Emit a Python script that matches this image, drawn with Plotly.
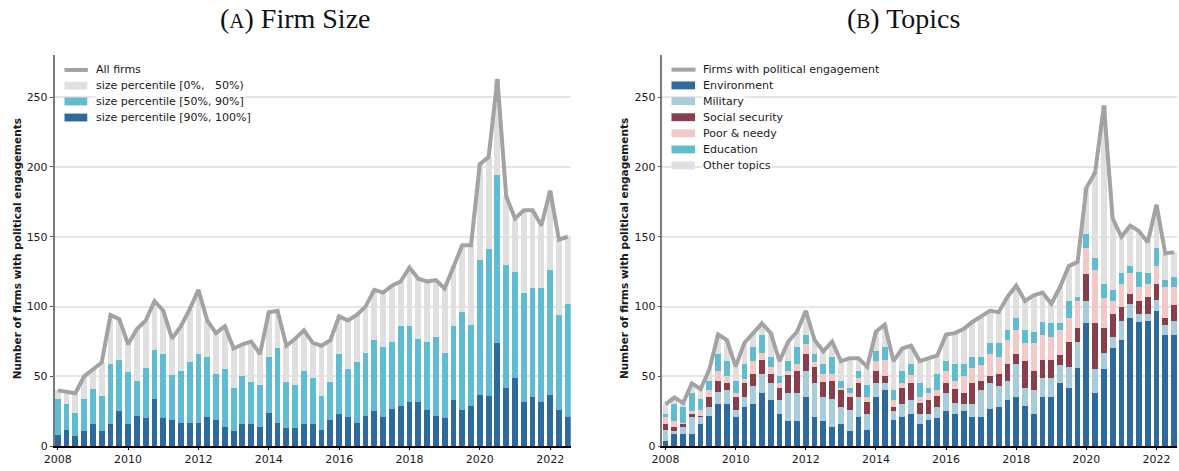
import plotly.graph_objects as go

# ---------------------------------------------------------------- data
# quarterly observations, 2008Q1 .. 2022Q3
quarters = [f"{y}-Q{q}" for y in range(2008, 2023) for q in range(1, 5)][:59]
xpos = [int(s[:4]) + (int(s[-1]) - 1) / 4 for s in quarters]

# Panel A: firms by size percentile
size_top10 = [8, 12, 7, 11, 16, 11, 16, 25, 16, 22, 20, 34, 20, 19, 17, 17, 17, 21, 19, 14,
              11, 16, 16, 14, 24, 17, 13, 13, 16, 16, 12, 19, 23, 21, 17, 22, 25, 21, 27, 29,
              32, 32, 26, 22, 20, 33, 26, 29, 37, 36, 74, 42, 49, 32, 35, 32, 37, 26, 21]
size_50_90 = [26, 18, 17, 23, 25, 25, 43, 37, 37, 25, 36, 35, 46, 32, 37, 43, 49, 43, 33, 41,
              31, 34, 30, 30, 40, 53, 33, 31, 38, 33, 24, 27, 43, 34, 43, 45, 51, 50, 48, 57,
              54, 45, 49, 56, 47, 53, 70, 58, 96, 105, 120, 88, 76, 78, 78, 81, 89, 68, 81]
size_0_50 = [6, 9, 14, 16, 14, 24, 35, 29, 20, 37, 34, 35, 31, 26, 32, 38, 46, 26, 29, 31,
             28, 23, 29, 22, 32, 27, 26, 33, 29, 25, 36, 30, 27, 35, 34, 33, 36, 39, 40, 32,
             42, 43, 43, 41, 46, 43, 48, 57, 69, 66, 69, 49, 38, 59, 56, 45, 57, 54, 48]
all_firms = [40, 39, 38, 50, 55, 60, 94, 91, 73, 84, 90, 104, 97, 77, 86, 98, 112, 90, 81, 86,
             70, 73, 75, 66, 96, 97, 72, 77, 83, 74, 72, 76, 93, 90, 94, 100, 112, 110, 115, 118,
             128, 120, 118, 119, 113, 129, 144, 144, 202, 207, 263, 179, 163, 169, 169, 158, 183, 148, 150]

# Panel B: firms by engagement topic
environment = [4, 9, 9, 9, 16, 22, 30, 30, 21, 28, 30, 38, 33, 23, 18, 18, 35, 21, 18, 14,
               16, 11, 21, 12, 35, 40, 19, 21, 23, 16, 19, 20, 25, 23, 25, 21, 21, 27, 28, 33,
               35, 29, 23, 35, 35, 45, 42, 56, 88, 38, 55, 70, 76, 92, 89, 90, 97, 80, 80]
military = [8, 2, 5, 12, 5, 6, 9, 10, 5, 7, 13, 14, 12, 10, 20, 20, 19, 24, 17, 20,
            12, 15, 14, 11, 10, 5, 6, 9, 10, 7, 4, 8, 13, 8, 5, 9, 19, 18, 15, 14,
            24, 13, 17, 14, 14, 13, 15, 19, 16, 17, 12, 8, 14, 10, 6, 5, 8, 7, 10]
social_security = [4, 3, 2, 2, 1, 7, 8, 5, 9, 10, 9, 10, 7, 9, 13, 16, 12, 12, 11, 13,
                   12, 9, 10, 9, 9, 5, 3, 12, 12, 8, 10, 8, 7, 10, 8, 15, 7, 5, 9, 12,
                   7, 19, 14, 13, 13, 7, 18, 10, 19, 33, 18, 17, 10, 7, 9, 12, 11, 5, 11]
poor_needy = [5, 4, 1, 2, 4, 5, 7, 5, 3, 3, 9, 5, 5, 3, 3, 5, 7, 3, 6, 5,
              2, 3, 4, 3, 7, 12, 5, 3, 6, 4, 5, 4, 9, 6, 12, 11, 11, 16, 12, 17,
              17, 13, 20, 18, 16, 18, 17, 19, 19, 38, 21, 9, 16, 15, 10, 9, 13, 22, 13]
education = [2, 12, 11, 13, 8, 7, 12, 11, 9, 11, 10, 13, 7, 5, 7, 12, 7, 6, 7, 12,
             5, 4, 5, 9, 7, 9, 7, 9, 8, 10, 4, 12, 7, 12, 9, 8, 6, 8, 10, 7,
             9, 9, 8, 9, 10, 5, 12, 3, 10, 9, 10, 8, 8, 5, 11, 8, 13, 5, 7]
other_topics = [7, 5, 3, 7, 7, 8, 14, 15, 10, 15, 10, 8, 17, 11, 14, 11, 17, 10, 9, 11,
                14, 21, 9, 13, 14, 16, 21, 16, 13, 16, 21, 13, 19, 22, 25, 25, 29, 23, 22, 24,
                23, 21, 26, 21, 14, 26, 25, 25, 33, 61, 128, 51, 26, 29, 29, 22, 31, 19, 18]
engaged_firms = [30, 35, 31, 45, 41, 55, 80, 76, 57, 74, 81, 88, 81, 61, 75, 82, 97, 76, 68, 75,
                 61, 63, 63, 57, 82, 87, 61, 70, 72, 61, 63, 65, 80, 81, 84, 89, 93, 97, 96, 107,
                 115, 104, 108, 110, 102, 114, 129, 132, 185, 196, 244, 163, 150, 158, 154, 146, 173, 138, 139]

year_ticks = [2008, 2010, 2012, 2014, 2016, 2018, 2020, 2022]
count_ticks = [0, 50, 100, 150, 200, 250]

# ---------------------------------------------------------------- style
W, H = 1179, 471
DARK_BLUE = "#2f6a9c"
CYAN = "#60bcd1"
LIGHT_GREY = "#e0e0e0"
MILITARY = "#a9ccdb"
SOCIAL = "#8a3e4b"
POOR = "#f1c9c6"
LINE_GREY = "#a3a3a3"
TEXT = "#1a1a1a"
SANS = "DejaVu Sans"
BAR_W = 0.165


def px(x):
    return x / W


def py(y):
    return 1 - y / H


fig = go.Figure()

panel_a = [(size_top10, DARK_BLUE), (size_50_90, CYAN), (size_0_50, LIGHT_GREY)]
for vals, col in panel_a:
    fig.add_trace(go.Bar(x=xpos, y=vals, width=BAR_W, marker=dict(color=col, line=dict(width=0)),
                         xaxis="x", yaxis="y", showlegend=False))
fig.add_trace(go.Scatter(x=xpos, y=all_firms, mode="lines", line=dict(color=LINE_GREY, width=4),
                         xaxis="x", yaxis="y", showlegend=False))

panel_b = [(environment, DARK_BLUE), (military, MILITARY), (social_security, SOCIAL),
           (poor_needy, POOR), (education, CYAN), (other_topics, LIGHT_GREY)]
for vals, col in panel_b:
    fig.add_trace(go.Bar(x=xpos, y=vals, width=BAR_W, marker=dict(color=col, line=dict(width=0)),
                         xaxis="x2", yaxis="y2", showlegend=False))
fig.add_trace(go.Scatter(x=xpos, y=engaged_firms, mode="lines", line=dict(color=LINE_GREY, width=4),
                         xaxis="x2", yaxis="y2", showlegend=False))

xcommon = dict(range=[2007.91, 2022.585], tickvals=year_ticks, ticktext=[str(t) for t in year_ticks],
               showgrid=False, zeroline=False, showline=True, linecolor="#000000", linewidth=1.5,
               ticks="outside", ticklen=2, tickcolor="#000000",
               tickfont=dict(family=SANS, size=11, color=TEXT))
ycommon = dict(range=[0, 280], tickvals=count_ticks, showgrid=True, gridcolor="#e6e6e6", gridwidth=1.5,
               zeroline=False, showline=True, linecolor="#7a7a7a", linewidth=1.5,
               ticks="outside", ticklen=3, tickcolor="#555555",
               tickfont=dict(family=SANS, size=11, color=TEXT))
ydom = [py(453), py(56)]

fig.update_layout(
    width=W, height=H, margin=dict(l=0, r=0, t=0, b=0),
    paper_bgcolor="white", plot_bgcolor="white", barmode="stack", showlegend=False,
    xaxis=dict(domain=[px(44), px(565)], anchor="y", **xcommon),
    yaxis=dict(domain=ydom, anchor="x", **ycommon),
    xaxis2=dict(domain=[px(657.5), px(1177)], anchor="y2", **xcommon),
    yaxis2=dict(domain=ydom, anchor="x2", **ycommon),
)

annotations = []
shapes = []

# panel titles
for label, rest, cx in [("A", "Firm Size", 287), ("B", "Topics", 901)]:
    annotations.append(dict(
        x=px(cx), y=py(19), xref="paper", yref="paper", xanchor="center", yanchor="middle",
        text=f"(<span style='font-size:21px'>{label}</span>) {rest}", showarrow=False,
        font=dict(family="Liberation Serif", size=28, color="#111111")))

# y-axis titles
for cx in (6, 619.5):
    annotations.append(dict(
        x=px(cx), y=py(252), xref="paper", yref="paper", xanchor="center", yanchor="middle",
        text="<b>Number of firms with political engagements</b>", textangle=-90, showarrow=False,
        font=dict(family=SANS, size=10.5, color=TEXT)))


def legend(entries, x0, x1, xt, rows):
    for (kind, color, text), yc in zip(entries, rows):
        if kind == "line":
            shapes.append(dict(type="line", xref="paper", yref="paper", x0=px(x0), x1=px(x1),
                               y0=py(yc), y1=py(yc), line=dict(color=color, width=4)))
        else:
            shapes.append(dict(type="rect", xref="paper", yref="paper", x0=px(x0), x1=px(x1 - 0.5),
                               y0=py(yc - 4), y1=py(yc + 4), fillcolor=color, line=dict(width=0)))
        annotations.append(dict(x=px(xt), y=py(yc), xref="paper", yref="paper", xanchor="left",
                                yanchor="middle", text=text, showarrow=False, bgcolor="white",
                                borderpad=0, font=dict(family=SANS, size=11, color=TEXT)))


legend([("line", LINE_GREY, "All firms"),
        ("rect", LIGHT_GREY, "size percentile [0%,\u00a0\u00a0 50%)"),
        ("rect", CYAN, "size percentile [50%, 90%]"),
        ("rect", DARK_BLUE, "size percentile [90%, 100%]")],
       54, 77.5, 84.5, [71, 87, 103, 119.3])

legend([("line", LINE_GREY, "Firms with political engagement"),
        ("rect", DARK_BLUE, "Environment"),
        ("rect", MILITARY, "Military"),
        ("rect", SOCIAL, "Social security"),
        ("rect", POOR, "Poor &amp; needy"),
        ("rect", CYAN, "Education"),
        ("rect", LIGHT_GREY, "Other topics")],
       666.7, 691, 698, [70.7, 86.7, 102.7, 119, 135.3, 151.7, 168])

fig.update_layout(annotations=annotations, shapes=shapes)

fig.write_html("out.html")
